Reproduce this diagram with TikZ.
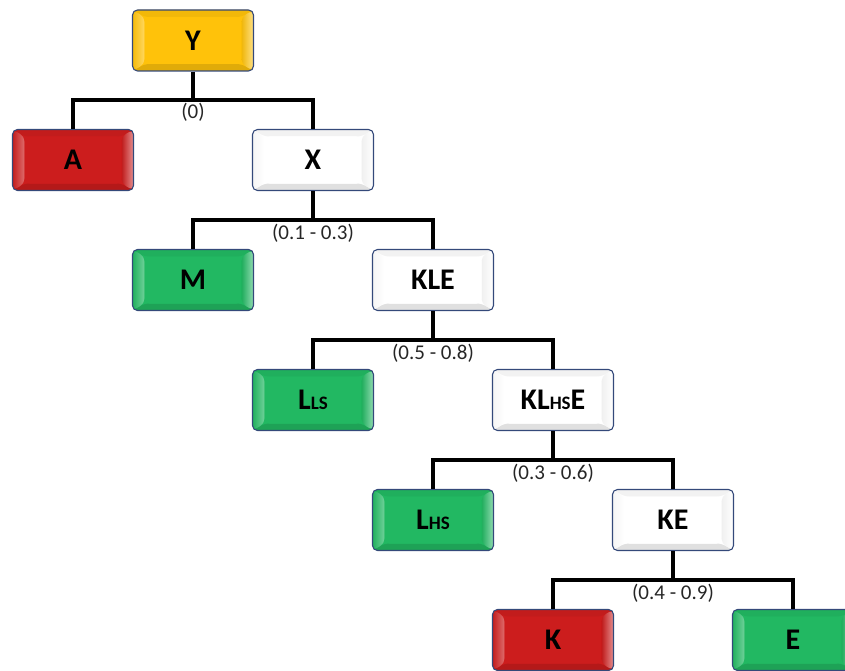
\documentclass[tikz,border=0pt]{standalone}
\usepackage{fontspec}
\setmainfont{Carlito}
\usetikzlibrary{calc}

\definecolor{edgeblue}{HTML}{34497A}
\definecolor{ygold}{HTML}{FFC20A}
\definecolor{rred}{HTML}{CC1D1D}
\definecolor{ggreen}{HTML}{22B862}
\definecolor{wwhite}{HTML}{FFFFFF}

% smaller capitals used inside a box title
\newcommand\lowcaps[1]{{\fontsize{19}{19}\selectfont #1}}

\tikzset{
  x=1pt, y=-1pt,
  bevelbox/.style={
    rectangle, rounded corners=5pt,
    minimum width=121pt, minimum height=61pt, inner sep=0pt,
    draw=edgeblue, line width=1.1pt, fill=#1,
    font=\fontsize{30}{30}\selectfont\bfseries,
    path picture={
      \coordinate (pa) at (path picture bounding box.north west);
      \coordinate (pb) at (path picture bounding box.north east);
      \coordinate (pc) at (path picture bounding box.south east);
      \coordinate (pd) at (path picture bounding box.south west);
      \coordinate (qa) at ($(pa)+(12,7)$);
      \coordinate (qb) at ($(pb)+(-12,7)$);
      \coordinate (qc) at ($(pc)+(-12,-7)$);
      \coordinate (qd) at ($(pd)+(12,-7)$);
      % top band
      \fill[#1!95!black] (pa) -- (pb) -- (qb) -- (qa) -- cycle;
      % bottom band
      \fill[#1!88!black] (pd) -- (pc) -- (qc) -- (qd) -- cycle;
      % left band, lit
      \shade[left color=#1!96!black, right color=#1!65!white]
        (pa) -- (qa) -- (qd) -- (pd) -- cycle;
      % right band, bright edge
      \shade[left color=#1!94!black, right color=#1!50!white]
        (pb) -- (qb) -- (qc) -- (pc) -- cycle;
      % inner face
      \fill[#1] (qa) rectangle (qc);
    }
  },
  conn/.style={line width=4pt, draw=black, line join=miter},
  lbl/.style={font=\fontsize{21}{21}\selectfont, inner sep=0pt, anchor=north, text=black!85}
}

\begin{document}
\begin{tikzpicture}
\useasboundingbox (0,0) rectangle (845,671);
\clip (0,0) rectangle (845,671);

% boxes
\node[bevelbox=ygold]  (Y)     at (193,40.5) {Y};
\node[bevelbox=rred]   (A)     at (73,160)   {A};
\node[bevelbox=wwhite] (X)     at (313,160)  {X};
\node[bevelbox=ggreen] (M)     at (193,280)  {M};
\node[bevelbox=wwhite] (KLE)   at (433,280)  {KLE};
\node[bevelbox=ggreen] (LLS)   at (313,400)  {L\lowcaps{LS}};
\node[bevelbox=wwhite] (KLHSE) at (553,400)  {KL\lowcaps{HS}E};
\node[bevelbox=ggreen] (LHS)   at (433,520)  {L\lowcaps{HS}};
\node[bevelbox=wwhite] (KE)    at (673,520)  {KE};
\node[bevelbox=rred]   (K)     at (553,640)  {K};
\node[bevelbox=ggreen] (E)     at (793,640)  {E};

% split points of the tree
\coordinate (b0) at (193,100);
\coordinate (b1) at (313,220);
\coordinate (b2) at (433,340);
\coordinate (b3) at (553,460);
\coordinate (b4) at (673,580);

% connectors
\draw[conn] (Y.south) -- (b0);
\draw[conn] (A.north) |- (b0) -| (X.north);
\draw[conn] (X.south) -- (b1);
\draw[conn] (M.north) |- (b1) -| (KLE.north);
\draw[conn] (KLE.south) -- (b2);
\draw[conn] (LLS.north) |- (b2) -| (KLHSE.north);
\draw[conn] (KLHSE.south) -- (b3);
\draw[conn] (LHS.north) |- (b3) -| (KE.north);
\draw[conn] (KE.south) -- (b4);
\draw[conn] (K.north) |- (b4) -| (E.north);

% split ranges
\node[lbl] (r0) at ($(b0)+(0,3)$) {(0)};
\node[lbl] (r1) at ($(b1)+(0,4)$) {(0.1 - 0.3)};
\node[lbl] (r2) at ($(b2)+(0,4)$) {(0.5 - 0.8)};
\node[lbl] (r3) at ($(b3)+(0,4)$) {(0.3 - 0.6)};
\node[lbl] (r4) at ($(b4)+(0,4)$) {(0.4 - 0.9)};
\end{tikzpicture}
\end{document}
